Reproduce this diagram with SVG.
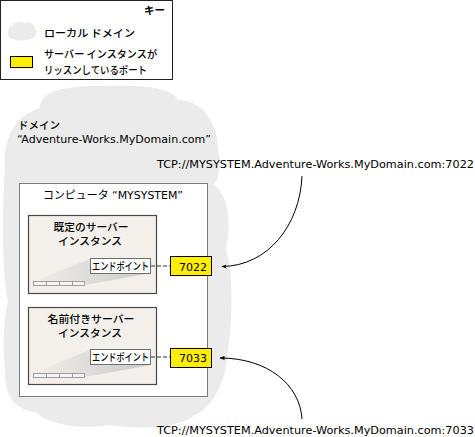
<svg xmlns="http://www.w3.org/2000/svg" width="475" height="437" viewBox="0 0 475 437">
<style>
  text { font-family: "DejaVu Sans", "Noto Sans CJK JP", sans-serif; font-size: 11px; fill: #000; }
  .jp { font-family: "Noto Sans CJK JP", "DejaVu Sans", sans-serif; font-size: 10.5px; font-weight: 500; }
  .title { font-weight: 700; }
  .cloud { fill: #ebebeb; }
  .inst { fill: #f3f0eb; stroke: #4a4a4a; stroke-width: 1.2; }
  .ep { fill: #ffffff; stroke: #6e6e6e; stroke-width: 1; }
  .port { fill: #ffee00; stroke: #000; stroke-width: 1; }
  .bar { fill: #f4f4f4; stroke: #8a8a8a; stroke-width: 0.8; }
  .conn { fill: none; stroke: #000; stroke-width: 1; }
  .dash { fill: none; stroke: #333; stroke-width: 1; stroke-dasharray: 4 2; }
</style>
<defs>
  <marker id="ah" viewBox="0 0 10 10" refX="9" refY="5" markerWidth="5" markerHeight="5" orient="auto">
    <path d="M0,1 L10,5 L0,9 Z" fill="#000"/>
  </marker>
  <linearGradient id="wedge" x1="0" y1="0" x2="1" y2="0">
    <stop offset="0" stop-color="#f1eee9"/>
    <stop offset="1" stop-color="#c9c9c9"/>
  </linearGradient>
</defs>

<g id="key">
  <rect x="0.5" y="0.5" width="172" height="79" fill="#fff" stroke="#222" stroke-width="1"/>
  <text x="165" y="14" text-anchor="end" class="jp title">キー</text>
  <path class="cloud" d="M12,26 C14,21 22,21 24,23 C28,21 35,23 35,29 C38,32 36,39 30,39 C25,41 18,41 14,39 C8,39 6,32 9,30 C8,28 10,26 12,26 Z"/>
  <text x="44" y="37" class="jp" textLength="91" lengthAdjust="spacingAndGlyphs">ローカル ドメイン</text>
  <rect x="10.5" y="56.5" width="22" height="11" class="port"/>
  <text x="44" y="58" class="jp" textLength="113" lengthAdjust="spacingAndGlyphs">サーバー インスタンスが</text>
  <text x="44" y="74" class="jp" textLength="103" lengthAdjust="spacingAndGlyphs">リッスンしているポート</text>
</g>

<g id="domain">
  <path class="cloud" d="M40,108 C40,92 60,86 100,86 C140,85 170,86 178,100 C200,100 218,120 218,150 C222,165 218,178 214,185 C228,195 232,220 226,250 C234,270 232,330 228,350 C226,380 215,405 195,415 C180,428 140,430 110,425 C80,430 50,425 35,412 C15,410 4,395 5,370 C2,340 4,320 8,300 C2,280 2,200 5,170 C2,140 15,115 40,108 Z"/>
  <text x="18" y="129" class="jp" textLength="42" lengthAdjust="spacingAndGlyphs">ドメイン</text>
  <text x="17" y="143" textLength="194" lengthAdjust="spacingAndGlyphs">“Adventure-Works.MyDomain.com”</text>
</g>

<g id="computer">
  <rect x="19.5" y="183.5" width="188" height="213" fill="#fff" stroke="#7a7a7a" stroke-width="1"/>
  <text x="113" y="199" text-anchor="middle" textLength="140" lengthAdjust="spacingAndGlyphs">コンピュータ “MYSYSTEM”</text>
</g>

<g id="instance1">
  <rect x="28.5" y="215.5" width="128" height="78" class="inst"/>
  <text x="91" y="231" text-anchor="middle" class="jp" textLength="75" lengthAdjust="spacingAndGlyphs">既定のサーバー</text>
  <text x="90" y="245" text-anchor="middle" class="jp" textLength="64" lengthAdjust="spacingAndGlyphs">インスタンス</text>
  <polygon points="34,281 90,259 151,273 85,285" fill="url(#wedge)"/>
  <rect x="33.5" y="281.5" width="51" height="4" class="bar"/>
  <path d="M46.5,281.5 v4 M59.5,281.5 v4 M72.5,281.5 v4" stroke="#8a8a8a" stroke-width="0.8"/>
</g>
<g id="endpoint1">
  <rect x="90.5" y="258.5" width="60" height="15" class="ep"/>
  <text x="120.5" y="270" text-anchor="middle" class="jp" font-size="10" textLength="57" lengthAdjust="spacingAndGlyphs">エンドポイント</text>
</g>
<g id="port7022">
  <rect x="170.5" y="256.5" width="41" height="19" class="port"/>
  <text x="193" y="270.5" text-anchor="middle">7022</text>
</g>

<g id="instance2">
  <rect x="28.5" y="307.5" width="128" height="77" class="inst"/>
  <text x="91" y="323" text-anchor="middle" class="jp" textLength="87" lengthAdjust="spacingAndGlyphs">名前付きサーバー</text>
  <text x="90" y="337" text-anchor="middle" class="jp" textLength="64" lengthAdjust="spacingAndGlyphs">インスタンス</text>
  <polygon points="34,373 90,350 151,365 85,377" fill="url(#wedge)"/>
  <rect x="33.5" y="373.5" width="51" height="4" class="bar"/>
  <path d="M46.5,373.5 v4 M59.5,373.5 v4 M72.5,373.5 v4" stroke="#8a8a8a" stroke-width="0.8"/>
</g>
<g id="endpoint2">
  <rect x="90.5" y="349.5" width="60" height="15" class="ep"/>
  <text x="120.5" y="361" text-anchor="middle" class="jp" font-size="10" textLength="57" lengthAdjust="spacingAndGlyphs">エンドポイント</text>
</g>
<g id="port7033">
  <rect x="170.5" y="348.5" width="41" height="19" class="port"/>
  <text x="193" y="362" text-anchor="middle">7033</text>
</g>

<g id="url7022">
  <text x="157" y="168" textLength="317" lengthAdjust="spacingAndGlyphs">TCP://MYSYSTEM.Adventure-Works.MyDomain.com:7022</text>
</g>
<g id="url7033">
  <text x="157" y="434" textLength="317" lengthAdjust="spacingAndGlyphs">TCP://MYSYSTEM.Adventure-Works.MyDomain.com:7033</text>
</g>

<g id="connectors">
  <line x1="151" y1="266" x2="170" y2="266" class="dash"/>
  <line x1="151" y1="357" x2="170" y2="357" class="dash"/>
  <path class="conn" d="M302,176 C300,225 268,266 222,266.5" marker-end="url(#ah)"/>
  <path class="conn" d="M302,419 C300,385 268,358 220,358" marker-end="url(#ah)"/>
</g>
</svg>
